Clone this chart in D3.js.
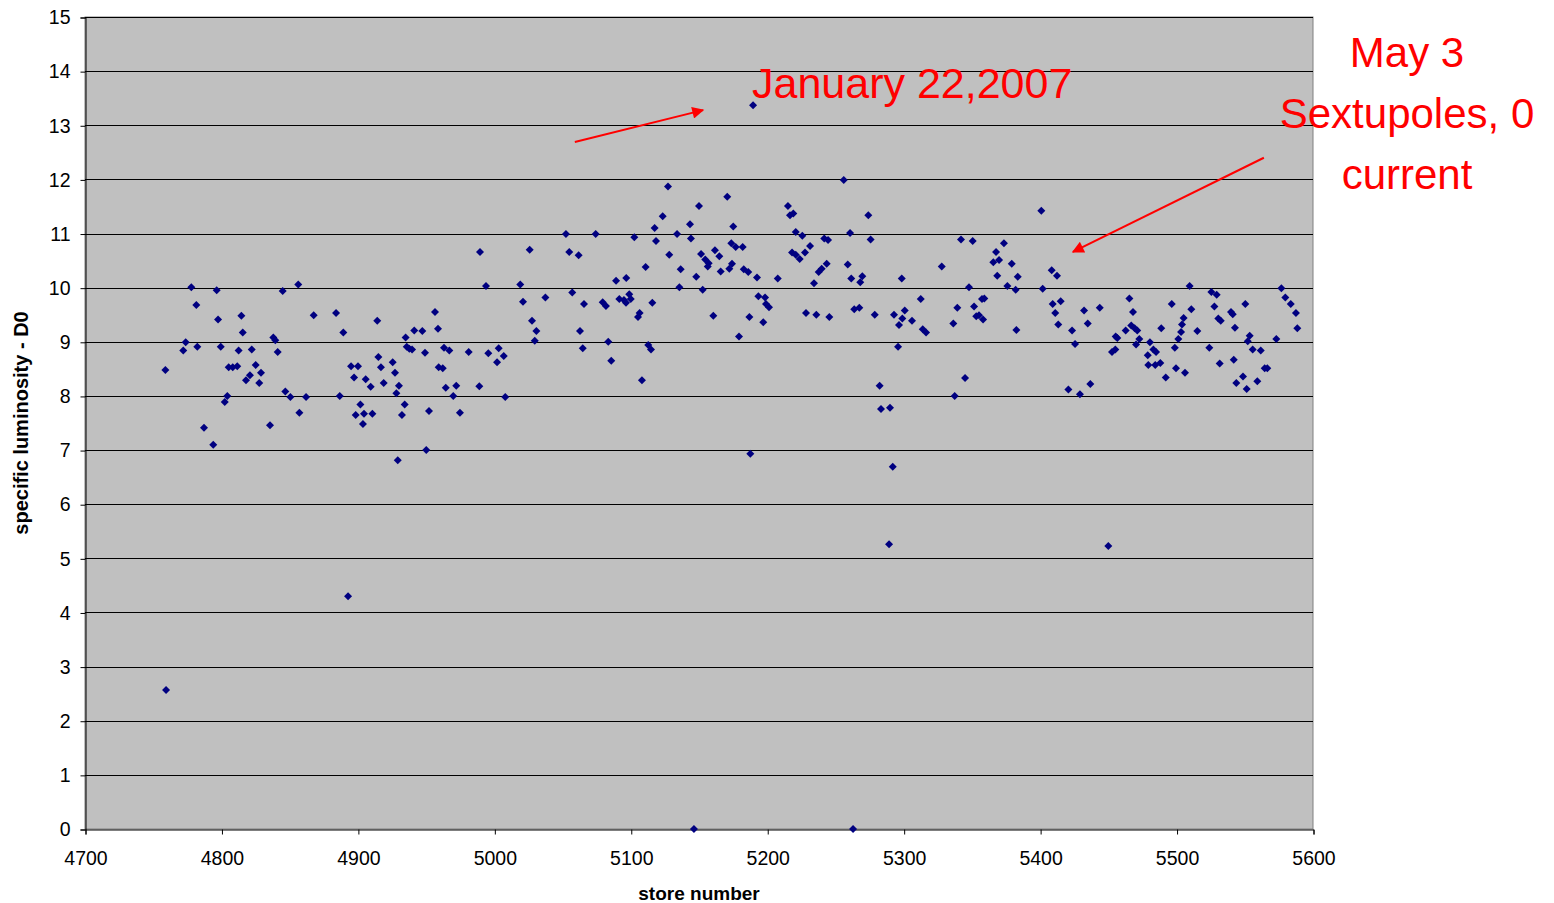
<!DOCTYPE html>
<html>
<head>
<meta charset="utf-8">
<script src="https://cdn.jsdelivr.net/npm/d3@7"></script>
<style>
  body { margin: 0; background: #fff; }
  svg { display: block; font-family: Arial, "Liberation Sans", sans-serif; }
</style>
</head>
<body>
<svg id="chart" width="1554" height="903"></svg>
<script>
// store number / specific luminosity pairs
const storeNumber = [
  4758.9, 4759.4, 4772.0, 4773.8, 4777.9, 4781.6, 4782.3, 4787.2, 4794.0, 4796.5,
  4797.5, 4799.5, 4802.4, 4804.3, 4805.3, 4808.3, 4811.6, 4812.6, 4814.6, 4815.6,
  4818.0, 4820.9, 4822.2, 4825.1, 4827.7, 4829.0, 4835.6, 4838.0, 4839.5, 4841.2,
  4844.9, 4846.8, 4850.5, 4856.3, 4857.1, 4862.0, 4867.6, 4884.0, 4886.7, 4889.3,
  4892.8, 4895.0, 4897.2, 4898.4, 4900.1, 4901.8, 4903.7, 4904.5, 4905.7, 4909.4,
  4910.6, 4914.2, 4915.0, 4916.9, 4918.9, 4925.5, 4927.2, 4928.2, 4929.2, 4930.1,
  4932.3, 4934.3, 4935.0, 4935.8, 4937.7, 4939.7, 4941.3, 4947.2, 4949.2, 4950.1,
  4952.1, 4956.5, 4958.7, 4959.2, 4962.2, 4963.1, 4964.4, 4967.0, 4969.9, 4972.1,
  4974.8, 4981.2, 4989.0, 4989.5, 4993.9, 4995.6, 5002.0, 5003.2, 5006.9, 5008.0,
  5019.0, 5021.0, 5025.9, 5027.6, 5029.6, 5030.8, 5037.4, 5052.5, 5054.9, 5057.1,
  5061.8, 5062.8, 5064.8, 5065.7, 5074.3, 5079.4, 5081.8, 5083.5, 5085.7, 5089.2,
  5091.6, 5095.0, 5096.5, 5096.7, 5098.9, 5100.0, 5102.6, 5105.3, 5106.5, 5108.2,
  5110.9, 5112.8, 5114.8, 5115.8, 5117.5, 5118.5, 5123.4, 5127.3, 5128.2, 5133.9,
  5135.6, 5136.6, 5143.4, 5144.1, 5146.3, 5148.0, 5150.0, 5151.5, 5152.7, 5154.6,
  5156.4, 5157.1, 5160.5, 5161.7, 5164.9, 5165.9, 5170.7, 5172.2, 5173.7, 5174.2,
  5175.1, 5176.9, 5179.3, 5182.0, 5182.8, 5186.1, 5186.9, 5187.6, 5189.6, 5192.5,
  5193.5, 5197.1, 5198.4, 5199.1, 5201.3, 5207.7, 5215.2, 5216.7, 5218.2, 5219.1,
  5220.9, 5220.9, 5223.8, 5225.7, 5227.7, 5228.4, 5231.4, 5234.3, 5236.0, 5237.7,
  5239.9, 5241.8, 5243.6, 5244.6, 5245.5, 5256.1, 5259.0, 5260.7, 5261.6, 5262.9,
  5263.8, 5267.5, 5268.2, 5269.7, 5274.1, 5275.8, 5278.8, 5282.4, 5283.4, 5289.3,
  5290.0, 5292.0, 5292.9, 5295.9, 5296.6, 5298.6, 5299.0, 5300.8, 5306.1, 5312.5,
  5314.0, 5316.4, 5327.9, 5336.4, 5337.4, 5339.3, 5342.0, 5345.0, 5347.9, 5350.6,
  5351.6, 5353.2, 5355.2, 5357.4, 5358.2, 5359.1, 5365.7, 5367.7, 5368.6, 5369.9,
  5373.5, 5376.0, 5379.2, 5382.1, 5382.6, 5383.6, 5400.9, 5401.9, 5408.5, 5409.2,
  5411.1, 5412.4, 5413.3, 5415.1, 5420.7, 5423.4, 5425.6, 5429.2, 5432.2, 5434.9,
  5436.8, 5443.7, 5450.0, 5452.7, 5455.1, 5455.4, 5456.6, 5462.7, 5465.4, 5466.8,
  5468.1, 5469.3, 5470.3, 5471.2, 5472.7, 5478.9, 5479.3, 5480.5, 5483.0, 5484.4,
  5485.0, 5488.1, 5488.8, 5492.1, 5496.5, 5498.7, 5499.6, 5501.3, 5503.3, 5504.0,
  5505.2, 5506.2, 5509.6, 5510.8, 5515.2, 5524.0, 5525.5, 5527.7, 5529.4, 5530.6,
  5531.6, 5532.4, 5539.9, 5541.2, 5541.9, 5542.8, 5543.8, 5548.7, 5550.4, 5551.4,
  5552.2, 5553.6, 5555.8, 5559.2, 5561.7, 5564.6, 5566.5, 5573.1, 5576.8, 5579.7,
  5583.7, 5587.5, 5588.5
]
const luminosity = [
  8.48, 2.57, 8.84, 8.99, 10.01, 9.68, 8.91, 7.41, 7.10, 9.95,
  9.41, 8.91, 7.89, 8.00, 8.53, 8.53, 8.55, 8.84, 9.48, 9.17,
  8.29, 8.38, 8.86, 8.57, 8.24, 8.43, 7.46, 9.08, 9.03, 8.81,
  9.94, 8.08, 7.98, 10.06, 7.69, 7.98, 9.49, 9.53, 8.00, 9.17,
  4.30, 8.55, 8.34, 7.65, 8.55, 7.84, 7.48, 7.67, 8.31, 8.17,
  7.67, 9.39, 8.72, 8.53, 8.24, 8.62, 8.43, 8.05, 6.81, 8.19,
  7.65, 7.84, 9.08, 8.91, 8.87, 8.86, 9.21, 9.20, 8.80, 7.00,
  7.72, 9.55, 9.24, 8.53, 8.51, 8.89, 8.15, 8.84, 8.00, 8.19,
  7.69, 8.81, 8.18, 10.66, 10.03, 8.79, 8.62, 8.88, 8.74, 7.98,
  10.06, 9.74, 10.70, 9.39, 9.02, 9.20, 9.82, 10.99, 10.66, 9.91,
  10.60, 9.20, 8.88, 9.70, 10.99, 9.73, 9.66, 9.00, 8.65, 10.13,
  9.79, 9.77, 9.72, 10.18, 9.88, 9.79, 10.93, 9.46, 9.53, 8.29,
  10.38, 8.94, 8.86, 9.72, 11.10, 10.86, 11.32, 11.87, 10.61, 10.99,
  10.01, 10.34, 11.17, 10.91, 0.0, 10.20, 11.51, 10.62, 9.96, 10.52,
  10.39, 10.45, 9.48, 10.69, 10.58, 10.30, 11.68, 10.35, 10.82, 10.44,
  11.13, 10.75, 9.10, 10.75, 10.34, 10.29, 9.46, 6.93, 13.37, 10.19,
  9.84, 9.36, 9.82, 9.70, 9.64, 10.17, 11.51, 11.34, 10.65, 11.37,
  11.03, 10.61, 10.53, 10.96, 10.65, 9.53, 10.77, 10.08, 9.50, 10.29,
  10.35, 10.91, 10.44, 10.88, 9.46, 11.99, 10.43, 11.01, 10.17, 0.0,
  9.60, 9.63, 10.10, 10.21, 11.34, 10.89, 9.50, 8.19, 7.76, 5.26,
  7.78, 6.69, 9.50, 8.91, 9.31, 10.17, 9.43, 9.58, 9.39, 9.79,
  9.23, 9.17, 10.39, 9.34, 8.00, 9.63, 10.89, 8.33, 10.01, 10.86,
  9.65, 9.47, 9.49, 9.79, 9.41, 9.80, 10.47, 10.66, 10.22, 10.51,
  10.82, 10.03, 10.44, 9.96, 9.22, 10.20, 11.42, 9.98, 10.32, 9.70,
  9.53, 10.22, 9.32, 9.75, 8.12, 9.21, 8.96, 8.03, 9.58, 9.34,
  8.22, 9.63, 5.23, 8.81, 8.86, 9.10, 9.07, 9.21, 9.80, 9.30,
  9.55, 9.25, 8.95, 9.21, 9.05, 8.75, 8.57, 8.99, 8.86, 8.57,
  8.81, 8.61, 9.25, 8.34, 9.70, 8.89, 8.51, 9.05, 9.18, 9.32,
  9.44, 8.43, 10.03, 9.60, 9.20, 8.89, 9.92, 9.65, 9.87, 9.43,
  8.60, 9.39, 9.55, 9.51, 8.67, 9.26, 8.24, 8.36, 9.70, 8.13,
  9.01, 9.11, 8.86, 8.27, 8.84, 8.51, 8.51, 9.05, 9.99, 9.82,
  9.70, 9.53, 9.25
]
const xTicks = d3.range(4700, 5601, 100)
const yTicks = d3.range(0, 16, 1)

// annotations: text lines and arrows (arrow ends in data units)
const janLabel = 'January 22,2007'
const mayLines = ['May 3', 'Sextupoles, 0', 'current']
const arrows = [
  { from: [5059, 12.69], to: [5153, 13.28] },
  { from: [5564, 12.40], to: [5424, 10.66] }
]

const points = storeNumber.map((s, i) => ({ s: s, v: luminosity[i] }))

const svg = d3.select('#chart')
const plotLeft = 85, plotTop = 17, plotRight = 1313, plotBottom = 829

const x = d3.scaleLinear().domain([4700, 5600]).range([plotLeft, plotRight])
const y = d3.scaleLinear().domain([0, 15]).range([plotBottom, plotTop])

// plot area
svg.append('rect')
  .attr('x', plotLeft).attr('y', plotTop)
  .attr('width', plotRight - plotLeft).attr('height', plotBottom - plotTop)
  .attr('fill', '#c0c0c0')
  .attr('stroke', '#808080')
  .attr('stroke-width', 1)

// horizontal gridlines
svg.append('g')
  .selectAll('line')
  .data(yTicks.filter(d => d > 0))
  .enter().append('line')
  .attr('x1', plotLeft).attr('x2', plotRight)
  .attr('y1', d => Math.round(y(d)) + 0.5)
  .attr('y2', d => Math.round(y(d)) + 0.5)
  .attr('stroke', '#000')
  .attr('stroke-width', 1)

// axes
const yAxis = svg.append('g')
  .attr('transform', 'translate(' + (plotLeft + 0.5) + ',0.5)')
  .call(d3.axisLeft(y).tickValues(yTicks).tickSize(5).tickPadding(10).tickFormat(d3.format('d')))
yAxis.select('.domain').attr('stroke', '#000')
yAxis.selectAll('text').attr('font-size', '19.5px').attr('fill', '#000')

const xAxis = svg.append('g')
  .attr('transform', 'translate(0.5,' + (plotBottom + 0.5) + ')')
  .call(d3.axisBottom(x).tickValues(xTicks).tickSize(5).tickPadding(17).tickFormat(d3.format('d')))
xAxis.select('.domain').attr('stroke', '#000')
xAxis.selectAll('text').attr('font-size', '19.5px').attr('fill', '#000')

// axis titles
svg.append('text')
  .attr('x', 699).attr('y', 900)
  .attr('text-anchor', 'middle')
  .attr('font-size', '19px').attr('font-weight', 'bold')
  .text('store number')

svg.append('text')
  .attr('transform', 'translate(28,423) rotate(-90)')
  .attr('text-anchor', 'middle')
  .attr('font-size', '20px').attr('font-weight', 'bold')
  .text('specific luminosity - D0')

// markers
const diamond = d3.symbol().type(d3.symbolSquare).size(32)
svg.append('g')
  .selectAll('path')
  .data(points)
  .enter().append('path')
  .attr('d', diamond)
  .attr('transform', d => 'translate(' + x(d.s) + ',' + y(d.v) + ') rotate(45)')
  .attr('fill', '#000080')

// annotations
const defs = svg.append('defs')
defs.append('marker')
  .attr('id', 'head')
  .attr('viewBox', '0 0 10 10')
  .attr('refX', 9).attr('refY', 5)
  .attr('markerWidth', 8).attr('markerHeight', 6)
  .attr('markerUnits', 'strokeWidth')
  .attr('orient', 'auto')
  .append('path')
  .attr('d', 'M0,0L10,5L0,10Z')
  .attr('fill', '#ff0000')

svg.append('g')
  .selectAll('line')
  .data(arrows)
  .enter().append('line')
  .attr('x1', d => x(d.from[0])).attr('y1', d => y(d.from[1]))
  .attr('x2', d => x(d.to[0])).attr('y2', d => y(d.to[1]))
  .attr('stroke', '#ff0000')
  .attr('stroke-width', 2)
  .attr('marker-end', 'url(#head)')

svg.append('text')
  .attr('x', 752).attr('y', 98)
  .attr('font-size', '43px')
  .attr('fill', '#ff0000')
  .text(janLabel)

svg.append('g')
  .selectAll('text')
  .data(mayLines)
  .enter().append('text')
  .attr('x', 1407)
  .attr('y', (d, i) => 67 + i * 61)
  .attr('text-anchor', 'middle')
  .attr('font-size', '42px')
  .attr('fill', '#ff0000')
  .text(d => d)
</script>
</body>
</html>
